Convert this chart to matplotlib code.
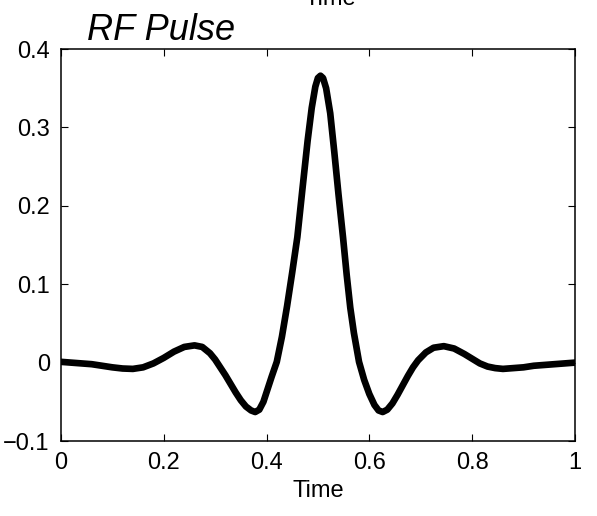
import numpy as np
import matplotlib
matplotlib.use("Agg")
import matplotlib.pyplot as plt

# values
t = [0.00, 0.02, 0.04, 0.06, 0.08, 0.10, 0.12, 0.14, 0.16, 0.18,
     0.20, 0.22, 0.24, 0.26, 0.275, 0.29, 0.30, 0.31, 0.32, 0.33,
     0.34, 0.35, 0.36, 0.37, 0.378, 0.386, 0.394, 0.402, 0.41, 0.42,
     0.43, 0.44, 0.45, 0.46, 0.47, 0.48, 0.488, 0.495, 0.50, 0.505,
     0.51, 0.516, 0.524, 0.532, 0.54, 0.549, 0.556, 0.563, 0.57, 0.58,
     0.59, 0.60, 0.61, 0.618, 0.626, 0.635, 0.645, 0.655, 0.665, 0.675,
     0.685, 0.695, 0.71, 0.725, 0.745, 0.765, 0.785, 0.80, 0.815, 0.83,
     0.845, 0.86, 0.88, 0.90, 0.92, 0.94, 0.96, 0.98, 1.00]
rf = [0.001, 0.000, -0.001, -0.002, -0.004, -0.006, -0.0075, -0.008, -0.006, -0.001,
      0.006, 0.014, 0.020, 0.022, 0.020, 0.012, 0.004, -0.006, -0.016, -0.027,
      -0.038, -0.048, -0.056, -0.061, -0.063, -0.060, -0.050, -0.034, -0.018, 0.001,
      0.033, 0.072, 0.115, 0.160, 0.222, 0.283, 0.325, 0.352, 0.363, 0.366,
      0.363, 0.350, 0.318, 0.268, 0.215, 0.159, 0.112, 0.070, 0.038, 0.001,
      -0.022, -0.040, -0.054, -0.061, -0.063, -0.060, -0.052, -0.041, -0.029, -0.017,
      -0.006, 0.003, 0.013, 0.019, 0.021, 0.018, 0.011, 0.005, -0.001, -0.005,
      -0.007, -0.008, -0.007, -0.006, -0.004, -0.003, -0.002, -0.001, 0.000]

xticks = [0, 0.2, 0.4, 0.6, 0.8, 1]
xticklabels = ["0", "0.2", "0.4", "0.6", "0.8", "1"]
yticks = [-0.1, 0, 0.1, 0.2, 0.3, 0.4]
yticklabels = ["\u22120.1", "0", "0.1", "0.2", "0.3", "0.4"]

plt.rcParams['font.family'] = ['Liberation Sans', 'DejaVu Sans']

fig = plt.figure(figsize=(5.97, 5.16), dpi=100)
ax = fig.add_axes([0.102, 0.1453, 0.861, 0.7597])

ax.plot(t, rf, color='black', lw=4.8, solid_capstyle='round', solid_joinstyle='round')

ax.set_xlim(0, 1)
ax.set_ylim(-0.1, 0.4)
ax.set_xticks(xticks)
ax.set_xticklabels(xticklabels)
ax.set_yticks(yticks)
ax.set_yticklabels(yticklabels)
ax.tick_params(direction='in', top=True, right=True, length=5, width=0.8,
               labelsize=17, pad=8)
for s in ax.spines.values():
    s.set_linewidth(1.1)

ax.set_xlabel("Time", fontsize=17, labelpad=4)
fig.text(0.145, 0.922, "RF Pulse", fontsize=26, style='italic', ha='left', va='baseline')
# clipped label from the plot above
fig.text(0.554, 0.99, "Time", fontsize=17, ha='center', va='baseline')

fig.savefig("out.png", dpi=100)
